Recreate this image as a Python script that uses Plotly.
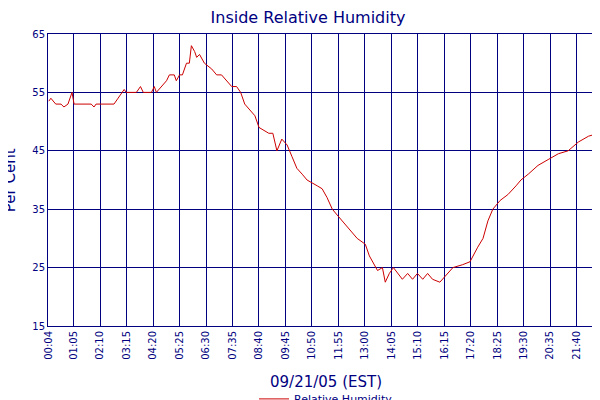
import plotly.graph_objects as go

minutes = [4,9,21,34,41,51,61,66,108,115,120,164,174,189,194,219,229,236,256,263,268,280,293,300,312,317,325,332,342,349,354,362,367,374,386,404,416,428,441,453,465,475,485,497,510,520,534,544,554,564,576,589,601,613,626,638,663,675,687,700,712,737,761,781,791,811,823,830,840,850,860,872,885,897,909,922,934,946,964,976,996,1020,1038,1057,1070,1082,1094,1112,1131,1151,1163,1181,1205,1230,1255,1279,1304,1329,1353,1365]
humidity = [53.5,54,53,53,52.5,53,55,53,53,52.5,53,53,54,55.5,55,55,56,55,55,56,55,56,57,58,58,57,58,58,60,60,63,62,61,61.5,60,59,58,58,57,56,56,55,53,52,51,49,48.5,48,48,45,47,46,44,42,41,40,39,38.5,37,35,34,32,30,29,27,24.5,25,22.5,24,25,24,23,24,23,24,23,24,23,22.5,23.5,25,25.5,26,28.5,30,33,35,36.5,37.5,39,40,41,42.5,43.5,44.5,45,46.5,47.5,48,49.5]
tick_vals = [4] + [65*i for i in range(1, 22)]
tick_text = ["00:04","01:05","02:10","03:15","04:20","05:25","06:30","07:35","08:40","09:45","10:50","11:55","13:00","14:05","15:10","16:15","17:20","18:25","19:30","20:35","21:40","22:45"]

navy = "#000080"
fig = go.Figure(go.Scatter(x=minutes, y=humidity, mode="lines", line=dict(color="#cc0000", width=1),
                           name="Relative Humidity"))
fig.update_layout(
    width=600, height=400, paper_bgcolor="white", plot_bgcolor="white",
    margin=dict(l=40, r=4, t=26, b=82, autoexpand=False),
    font=dict(family="DejaVu Sans", color=navy, size=11),
    title=dict(text="Inside Relative Humidity", x=0.5, xanchor="center", y=0.99, yanchor="top", font=dict(size=16, color=navy)),
    showlegend=True,
    legend=dict(orientation="h", x=0.5, xanchor="center", y=-0.2, yanchor="top", font=dict(size=11)),
    annotations=[
        dict(text="09/21/05 (EST)", xref="paper", yref="paper", x=0.5, y=-0.155, yanchor="top",
             showarrow=False, font=dict(size=15, color=navy)),
        dict(text="Per Cent", xref="paper", yref="paper", x=-0.068, y=0.5, xanchor="center",
             textangle=-90, showarrow=False, font=dict(size=15, color=navy)),
    ],
)
fig.update_xaxes(range=[2, 1367], tickvals=tick_vals, ticktext=tick_text, tickangle=-90, automargin=False,
                 showgrid=True, gridcolor=navy, gridwidth=1, showline=True, linecolor=navy, mirror=True,
                 tickfont=dict(size=10))
fig.update_yaxes(range=[15, 65], tickvals=[15,25,35,45,55,65], showgrid=True, gridcolor=navy, automargin=False,
                 showline=True, linecolor=navy, mirror=True, tickfont=dict(size=10))
fig.write_html("out.html")
